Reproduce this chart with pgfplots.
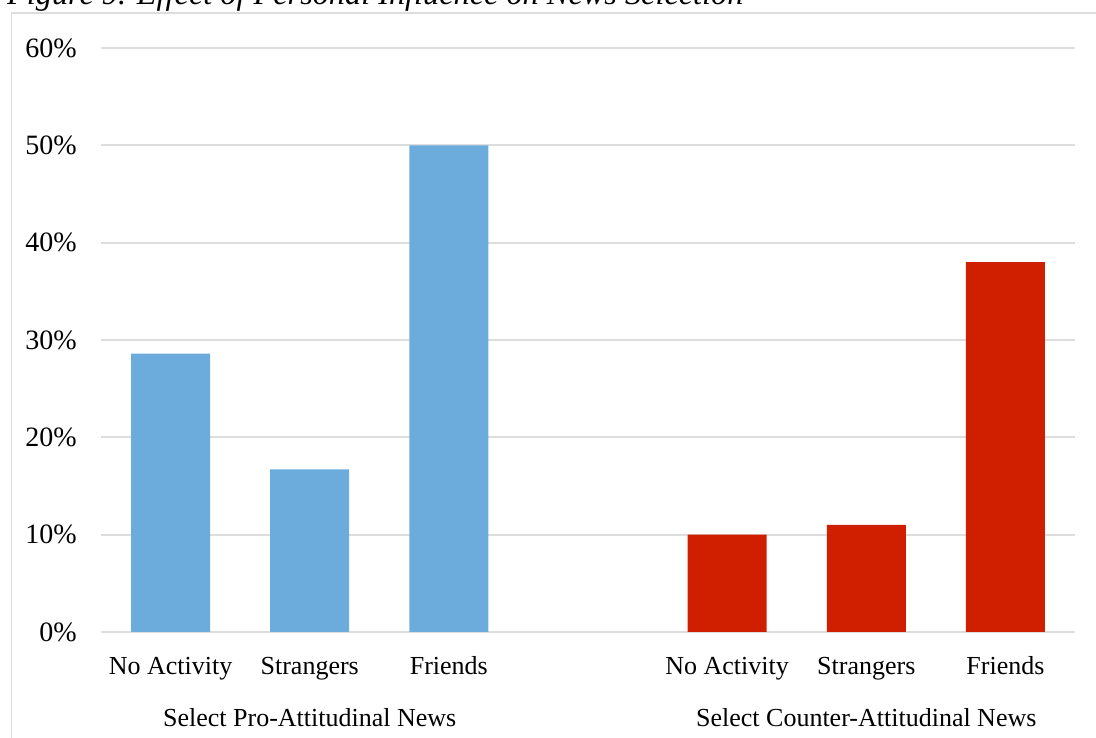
\documentclass[border=0pt]{standalone}
\usepackage{fontspec}
\setmainfont{Liberation Serif}
\usepackage{pgfplots}
\pgfplotsset{compat=1.18}
\definecolor{problue}{HTML}{6CACDC}
\definecolor{counterred}{HTML}{CF1F00}
\definecolor{gridgray}{HTML}{DDDDDD}

\begin{document}
\fontsize{26}{31}\selectfont
\begin{tikzpicture}[x=1pt,y=1pt]
\path[use as bounding box] (0,0) rectangle (1096,738);
% chart frame
\draw[gridgray, line width=1.5pt] (11.5,0) -- (11.5,725) -- (1100,725);
% caption
\node[anchor=base west, inner sep=0pt, font=\fontsize{32.3}{38}\selectfont\itshape] at (7,733)
  {Figure 9. Effect of Personal Influence on News Selection};
\begin{axis}[
  at={(101pt,106pt)}, anchor=south west,
  scale only axis, width=974pt, height=584pt,
  xmin=-0.5, xmax=6.5, ymin=0, ymax=60,
  axis lines*=left,
  y axis line style={draw=none},
  x axis line style={gridgray, line width=2pt, -},
  ymajorgrids, grid style={gridgray, line width=2pt},
  major tick length=0pt,
  ytick={0,10,...,60},
  yticklabel={\pgfmathprintnumber{\tick}\%},
  /pgf/number format/assume math mode=true,
  yticklabel style={anchor=east, inner sep=0pt, xshift=-24pt, font=\fontsize{28}{33}\selectfont},
  xtick={0,1,2,4,5,6},
  xticklabels={No Activity, Strangers, Friends, No Activity, Strangers, Friends},
  xticklabel style={anchor=base, inner sep=0pt, yshift=-43pt},
  clip=false,
]
\addplot[ybar, bar width=79pt, bar shift=0pt, fill=problue, draw=none]
  coordinates {(0,28.6) (1,16.7) (2,50)};
\addplot[ybar, bar width=79pt, bar shift=0pt, fill=counterred, draw=none]
  coordinates {(4,10) (5,11) (6,38)};
\node[anchor=base, inner sep=0pt, yshift=-95pt] at (axis cs:1,0) {Select Pro-Attitudinal News};
\node[anchor=base, inner sep=0pt, yshift=-95pt] at (axis cs:5,0) {Select Counter-Attitudinal News};
\end{axis}
\end{tikzpicture}
\end{document}
